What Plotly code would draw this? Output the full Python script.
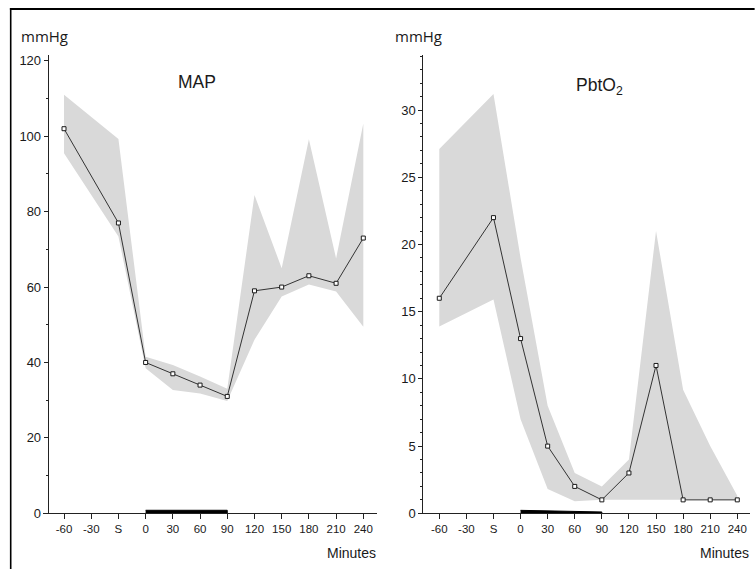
import plotly.graph_objects as go

# ---- data ----
categories = ['-60', '-30', 'S', '0', '30', '60', '90', '120', '150', '180', '210', '240']

map_mean = [102, None, 77, 40, 37, 34, 31, 59, 60, 63, 61, 73]
map_upper = [111, None, 99.3, 41.5, 39.3, 36.3, 33, 84.4, 65, 99.2, 67.6, 103.4]
map_lower = [95.5, None, 73.4, 38.5, 32.7, 31.8, 29.8, 46, 57.5, 60.7, 58.8, 49.5]

pbt_mean = [16, None, 22, 13, 5, 2, 1, 3, 11, 1, 1, 1]
pbt_upper = [27.1, None, 31.2, 19, 8, 3, 2, 4, 21, 9.2, 5, 1.3]
pbt_lower = [13.9, None, 15.9, 7, 1.8, 0.9, 1, 1, 1, 1, 1, 1]

period_start, period_end = '0', '90'

W, H = 755, 569
BAND = '#d9d9d9'
INK = '#1a1a1a'


def band_xy(cats, up, lo):
    xs = [c for c, u in zip(cats, up) if u is not None]
    us = [u for u in up if u is not None]
    ls = [l for l in lo if l is not None]
    return xs + xs[::-1], us + ls[::-1]


fig = go.Figure()

panels = [
    dict(mean=map_mean, up=map_upper, lo=map_lower, xa='x', ya='y', bar=(0.8, 0.8)),
    dict(mean=pbt_mean, up=pbt_upper, lo=pbt_lower, xa='x2', ya='y2', bar=(0.22, 0.1)),
]

for p in panels:
    bx, by = band_xy(categories, p['up'], p['lo'])
    fig.add_trace(go.Scatter(x=bx, y=by, fill='toself', fillcolor=BAND, mode='lines',
                             line=dict(width=0, color=BAND), hoverinfo='skip',
                             xaxis=p['xa'], yaxis=p['ya'], showlegend=False))
    fig.add_trace(go.Scatter(x=categories, y=p['mean'], mode='lines+markers', connectgaps=True,
                             line=dict(color='#333333', width=1),
                             marker=dict(symbol='square', size=4, color='white',
                                         line=dict(color=INK, width=1)),
                             xaxis=p['xa'], yaxis=p['ya'], showlegend=False))
    h0, h1 = p['bar']
    fig.add_trace(go.Scatter(x=[period_start, period_end, period_end, period_start],
                             y=[0, 0, h1, h0], fill='toself', fillcolor='black', mode='lines',
                             line=dict(width=1, color='black'), hoverinfo='skip',
                             xaxis=p['xa'], yaxis=p['ya'], showlegend=False))

tickfont_x = dict(family='Liberation Sans, Arial', size=11.5, color=INK)
tickfont_y = dict(family='Liberation Sans, Arial', size=13, color=INK)


def px_x(v):
    return v / W


def px_y(v):
    return 1 - v / H


xcommon = dict(type='category', categoryorder='array', categoryarray=categories,
               showline=True, linecolor='#222', linewidth=1, ticks='outside', ticklen=5,
               tickcolor='#222', tickfont=tickfont_x, showgrid=False, zeroline=False,
               fixedrange=True, automargin=False)
ycommon = dict(showline=True, linecolor='#222', linewidth=1, ticks='outside', ticklen=4,
               tickcolor='#222', tickfont=tickfont_y, showgrid=False, zeroline=False,
               anchor='free', automargin=False, fixedrange=True)

fig.update_layout(
    width=W, height=H, autosize=False,
    margin=dict(l=0, r=0, t=0, b=0, pad=0),
    paper_bgcolor='white', plot_bgcolor='rgba(0,0,0,0)',
    xaxis=dict(xcommon, domain=[px_x(43), px_x(377)], range=[-0.772, 11.503], anchor='y'),
    yaxis=dict(ycommon, domain=[px_y(513.3), px_y(55)], range=[0, 121.55],
               position=px_x(47.7), dtick=20,
               minor=dict(dtick=10, ticks='outside', ticklen=2, tickcolor='#222')),
    xaxis2=dict(xcommon, domain=[px_x(419.3), px_x(750)], range=[-0.738, 11.469], anchor='y2'),
    yaxis2=dict(ycommon, domain=[px_y(513.3), px_y(55)], range=[0, 34.1],
                position=px_x(422.3), dtick=5,
                minor=dict(dtick=1, ticks='outside', ticklen=2, tickcolor='#222')),
)

ann_font = dict(family='Open Sans', size=15, color=INK)
title_font = dict(family='Liberation Sans, Arial', size=17.5, color=INK)
min_font = dict(family='Liberation Sans, Arial', size=14, color=INK)

annotations = [
    dict(text='mmHg', x=px_x(19), y=px_y(36), xanchor='left', yanchor='middle', font=ann_font),
    dict(text='mmHg', x=px_x(393), y=px_y(36), xanchor='left', yanchor='middle', font=ann_font),
    dict(text='MAP', x=px_x(176), y=px_y(82), xanchor='left', yanchor='middle', font=title_font),
    dict(text='PbtO<sub>2</sub>', x=px_x(574), y=px_y(86), xanchor='left', yanchor='middle',
         font=title_font),
    dict(text='Minutes', x=px_x(378), y=px_y(553), xanchor='right', yanchor='middle', font=min_font),
    dict(text='Minutes', x=px_x(751), y=px_y(553), xanchor='right', yanchor='middle', font=min_font),
]
for a in annotations:
    a.update(xref='paper', yref='paper', showarrow=False)
fig.update_layout(annotations=annotations)

# outer frame (left and top edges)
fig.add_shape(type='line', xref='paper', yref='paper', x0=px_x(10.7), x1=px_x(10.7),
              y0=0, y1=px_y(8), line=dict(color='black', width=1.6))
fig.add_shape(type='line', xref='paper', yref='paper', x0=px_x(9.9), x1=0.9995,
              y0=px_y(9), y1=px_y(9), line=dict(color='black', width=2))

fig.write_html(
    'out.html',
    config={'displayModeBar': False, 'responsive': False, 'staticPlot': True},
    post_script=(
        "document.body.style.margin='0';"
        "document.body.style.padding='0';"
        "document.documentElement.style.overflow='hidden';"
        "document.body.style.overflow='hidden';"
    ),
)
